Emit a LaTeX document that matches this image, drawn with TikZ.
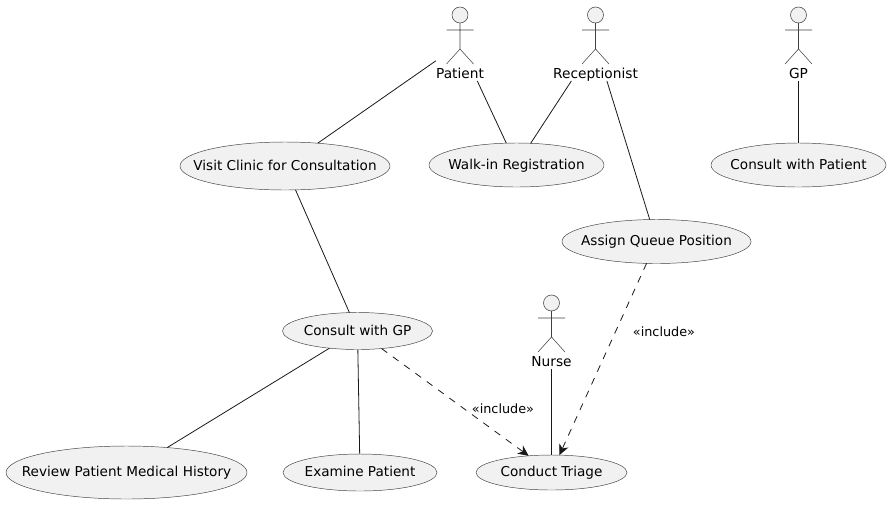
\documentclass[tikz,border=0pt]{standalone}
\usepackage{fontspec}
\setmainfont{DejaVu Sans}
\usetikzlibrary{shapes.geometric,arrows.meta,calc}
\definecolor{umlline}{HTML}{181818}
\definecolor{umlthin}{HTML}{404040}
\definecolor{umlfill}{HTML}{F1F1F1}
\tikzset{
  usecase/.style={ellipse,draw=umlthin,line width=0.35pt,fill=umlfill,inner sep=0pt,outer sep=0pt},
  actorbox/.style={rectangle,inner sep=0pt,outer sep=0pt},
  actortext/.style={anchor=base,inner sep=0pt,font=\fontsize{10.3pt}{12pt}\selectfont,text=black},
  actorline/.style={draw=umlthin,line width=0.4pt},
  assoc/.style={draw=umlline,line width=0.6pt},
  incl/.style={draw=umlline,line width=0.6pt,dash pattern=on 5.25pt off 5.25pt,-{Stealth[length=8pt,width=7.5pt,inset=2.5pt]}},
  incltext/.style={inner sep=0pt,font=\fontsize{9.6pt}{12pt}\selectfont,text=black}
}
\newcommand{\ucase}[6]{% name,cx,cy,rx,ry,text
  \pgfmathsetmacro{\ucw}{#4*1.5}\pgfmathsetmacro{\uch}{#5*1.5}
  \node[usecase,minimum width=\ucw pt,minimum height=\uch pt] (#1) at (#2,#3)
    {\fontsize{10.2pt}{12pt}\selectfont\smash{\raisebox{-3.2pt}{\makebox[0pt]{#6}}}};}
\newcommand{\actorfig}[5]{% name,cx,cy of box,width,label
  \pgfmathsetmacro{\acw}{#4*0.75}
  \node[actorbox,minimum width=\acw pt,minimum height=55.5pt] (#1) at (#2,#3) {};
  \draw[actorline,fill=umlfill] ($(#1.center)$) ++(0,-29) circle (6pt);
  \node[actortext] (#1label) at (#2,#3+34) {#5};
}
\begin{document}
\begin{tikzpicture}[x=0.75pt,y=-0.75pt]
\useasboundingbox (0,0) rectangle (891,504);
% actors
\actorfig{patient}{460}{44}{48}{Patient}
\actorfig{reception}{595.5}{44}{88}{Receptionist}
\actorfig{gp}{798.5}{44}{22}{GP}
\actorfig{nurse}{551.5}{332}{40}{Nurse}
\foreach \a in {patient,reception,gp,nurse}{
  \draw[actorline] ($(\a.center)+(0,-21)$) -- ($(\a.center)+(0,5)$)
    ($(\a.center)+(-13.5,-14)$) -- ($(\a.center)+(13.5,-14)$)
    ($(\a.center)+(-13.5,20)$) -- ($(\a.center)+(0,5)$) -- ($(\a.center)+(13.5,20)$);
}
% use cases
\ucase{visit}{285}{166}{105}{24}{Visit Clinic for Consultation}
\ucase{walkin}{516.5}{165}{87.5}{22}{Walk-in Registration}
\ucase{consultpatient}{798.5}{165}{87.5}{22}{Consult with Patient}
\ucase{queue}{656.5}{241.5}{94.5}{22}{Assign Queue Position}
\ucase{consultgp}{357.5}{331}{75}{18.5}{Consult with GP}
\ucase{review}{126.5}{472.5}{120.5}{26.5}{Review Patient Medical History}
\ucase{examine}{360}{472.5}{77}{18.5}{Examine Patient}
\ucase{triage}{551.5}{472.5}{75.5}{17.5}{Conduct Triage}
% associations
\draw[assoc] (patient) -- (visit);
\draw[assoc] (patient) -- (walkin);
\draw[assoc] (reception) -- (walkin);
\draw[assoc] (reception) -- (queue);
\draw[assoc] (gp) -- (consultpatient);
\draw[assoc] (visit) -- (consultgp);
\draw[assoc] (consultgp) -- (review);
\draw[assoc] (consultgp) -- (examine);
\draw[assoc] (nurse) -- (triage);
\draw[incl] (consultgp) -- (triage);
\draw[incl] (queue) -- (triage);
\node[incltext] (incla) at (503,409) {«include»};
\node[incltext] (inclb) at (664,332) {«include»};
\end{tikzpicture}
\end{document}
